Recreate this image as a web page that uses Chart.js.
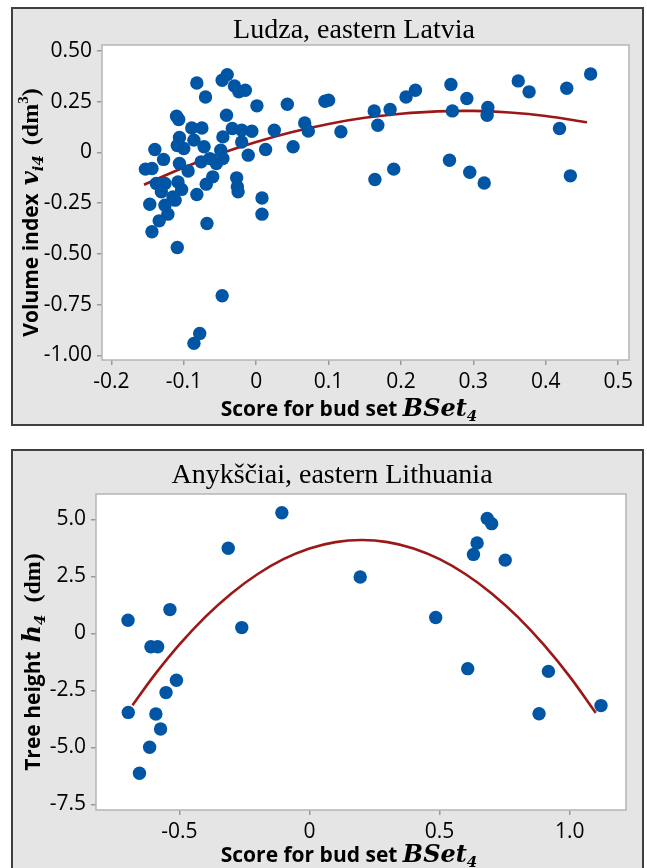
<!DOCTYPE html>
<html>
<head>
<meta charset="utf-8">
<script src="https://cdn.jsdelivr.net/npm/chart.js@4.4.1/dist/chart.umd.min.js"></script>
<style>
  html, body { margin: 0; padding: 0; background: #fff; overflow: hidden; }
  body { width: 647px; height: 868px; position: relative; }
  .panel { position: absolute; left: 11px; width: 633px; background: #e5e5e5; border: 2px solid #3f3f3f; box-sizing: border-box; }
  #p1 { top: 7px; height: 419px; }
  #p2 { top: 449px; height: 425px; }
  .panel canvas { display: block; }
</style>
</head>
<body>
<div class="panel" id="p1"><canvas id="ludza" width="629" height="415"></canvas></div>
<div class="panel" id="p2"><canvas id="anyksciai" width="629" height="421"></canvas></div>
<script>
// Ludza, eastern Latvia
const ludzaScore = [-0.082,-0.040,-0.047,-0.030,-0.024,-0.015,-0.070,0.001,0.043,-0.110,
  -0.107,-0.041,-0.089,-0.075,-0.033,-0.020,-0.006,0.025,-0.106,-0.086,
  -0.046,-0.109,-0.100,-0.072,-0.049,-0.020,-0.011,0.013,0.051,-0.140,
  -0.128,-0.153,-0.144,-0.106,-0.094,-0.076,-0.064,-0.055,-0.046,-0.060,
  -0.069,-0.027,-0.026,-0.025,-0.138,-0.126,-0.108,-0.103,-0.115,-0.131,
  -0.082,0.008,-0.147,-0.126,-0.112,-0.122,-0.134,-0.144,-0.068,-0.109,
  0.008,-0.047,-0.078,-0.086,0.095,0.100,0.067,0.072,0.117,0.163,
  0.168,0.185,0.207,0.220,0.269,0.271,0.291,0.320,0.319,0.164,
  0.190,0.267,0.295,0.315,0.362,0.377,0.429,0.462,0.419,0.434];
const ludzaVolume = [0.343,0.384,0.356,0.328,0.299,0.307,0.274,0.230,0.238,0.179,
  0.163,0.184,0.121,0.121,0.118,0.110,0.105,0.110,0.074,0.061,
  0.077,0.034,0.020,0.028,0.011,0.052,-0.013,0.015,0.028,0.015,
  -0.034,-0.082,-0.079,-0.054,-0.091,-0.046,-0.030,-0.054,-0.030,-0.120,
  -0.156,-0.125,-0.169,-0.194,-0.153,-0.153,-0.145,-0.182,-0.219,-0.194,
  -0.207,-0.224,-0.255,-0.260,-0.235,-0.304,-0.337,-0.391,-0.350,-0.468,
  -0.304,-0.706,-0.892,-0.941,0.253,0.258,0.146,0.106,0.102,0.205,
  0.134,0.212,0.274,0.307,0.335,0.205,0.266,0.222,0.184,-0.133,
  -0.082,-0.038,-0.097,-0.150,0.353,0.299,0.317,0.387,0.118,-0.115];
const ludzaFitScore = [-0.155,-0.1,-0.05,0,0.05,0.1,0.15,0.2,0.25,0.3,0.35,0.4,0.457];
const ludzaFitVolume = [-0.159,-0.074,-0.006,0.052,0.101,0.141,0.171,0.191,0.203,0.205,0.197,0.180,0.149];
const ludzaXTicks = [-0.2,-0.1,0,0.1,0.2,0.3,0.4,0.5];
const ludzaXLabels = ['-0.2','-0.1','0','0.1','0.2','0.3','0.4','0.5'];
const ludzaYTicks = [0.5,0.25,0,-0.25,-0.5,-0.75,-1];
const ludzaYLabels = ['0.50','0.25','0','-0.25','-0.50','-0.75','-1.00'];

// Anykščiai, eastern Lithuania
const anyScore = [-0.697,-0.696,-0.653,-0.614,-0.609,-0.583,-0.590,-0.572,-0.551,-0.536,
  -0.511,-0.312,-0.260,-0.106,0.195,0.485,0.608,0.630,0.644,0.683,
  0.700,0.752,0.882,0.918,1.120];
const anyHeight = [0.57,-3.47,-6.14,-5.00,-0.59,-0.59,-3.54,-4.20,-2.60,1.04,
  -2.06,3.73,0.25,5.29,2.47,0.69,-1.55,3.46,3.96,5.04,
  4.81,3.21,-3.53,-1.67,-3.17];
const anyFitScore = [-0.68,-0.6,-0.5,-0.4,-0.3,-0.2,-0.1,0,0.1,0.2,0.3,0.4,0.5,0.6,0.7,0.8,0.9,1.0,1.1];
const anyFitHeight = [-3.16,-1.90,-0.50,0.72,1.75,2.59,3.25,3.72,4.00,4.09,4.00,3.72,3.25,2.59,1.75,0.72,-0.50,-1.90,-3.49];
const anyXTicks = [-0.5,0,0.5,1.0];
const anyXLabels = ['-0.5','0','0.5','1.0'];
const anyYTicks = [5,2.5,0,-2.5,-5,-7.5];
const anyYLabels = ['5.0','2.5','0','-2.5','-5.0','-7.5'];

const SANS = '"Open Sans"';
const boldSans = 'bold 21px ' + SANS;
const mathIt = 'italic bold 24px "DejaVu Serif"';
const mathSub = 'italic bold 15px "DejaVu Serif"';
const serifB = 'bold 24px "Liberation Serif"';

function pairs(xs, ys) {
  return xs.map((x, i) => ({x: x, y: ys[i]}));
}

function drawRich(ctx, parts, cx, cy, rotate) {
  ctx.save();
  ctx.translate(cx, cy);
  if (rotate) ctx.rotate(-Math.PI / 2);
  ctx.textBaseline = 'alphabetic';
  ctx.textAlign = 'left';
  ctx.fillStyle = '#000';
  let total = 0;
  parts.forEach(p => { ctx.font = p.font; total += ctx.measureText(p.text).width + (p.gap || 0); });
  let x = -total / 2;
  parts.forEach(p => {
    ctx.font = p.font;
    ctx.fillText(p.text, x, p.dy || 0);
    x += ctx.measureText(p.text).width + (p.gap || 0);
  });
  ctx.restore();
}

// white plot area with light grey frame, like the original
const frame = {
  id: 'frame',
  beforeDraw(chart) {
    const a = chart.chartArea, ctx = chart.ctx;
    ctx.save();
    ctx.fillStyle = '#fff';
    ctx.fillRect(a.left, a.top, a.right - a.left, a.bottom - a.top);
    ctx.restore();
  },
  beforeDatasetsDraw(chart) {
    const a = chart.chartArea, ctx = chart.ctx;
    ctx.save();
    ctx.strokeStyle = '#b5b5b5';
    ctx.lineWidth = 1.5;
    ctx.strokeRect(a.left, a.top, a.right - a.left, a.bottom - a.top);
    ctx.restore();
  }
};

const labels = {
  id: 'labels',
  afterDraw(chart, args, opts) {
    const a = chart.chartArea, ctx = chart.ctx;
    drawRich(ctx, opts.title, opts.titleX, opts.titleY, false);
    drawRich(ctx, opts.xTitle, opts.xTitleX, opts.xTitleY, false);
    drawRich(ctx, opts.yTitle, opts.yTitleX, (a.top + a.bottom) / 2 + 10, true);
  }
};

function axis(min, max, ticks, tickLabels, fixedSize, horizontal) {
  return {
    type: 'linear',
    min: min,
    max: max,
    afterBuildTicks: s => { s.ticks = ticks.map(v => ({value: v})); },
    afterFit: s => { if (horizontal) s.height = fixedSize; else s.width = fixedSize; },
    border: {display: false},
    grid: {drawOnChartArea: false, drawTicks: true, tickLength: 5, color: '#9a9a9a', lineWidth: 1.5},
    ticks: {
      color: '#000',
      font: {family: 'Open Sans', size: 21},
      padding: horizontal ? 4 : 5,
      maxRotation: 0,
      autoSkip: false,
      callback: v => tickLabels[ticks.indexOf(v)]
    }
  };
}

function makeChart(id, pts, fit, x, y, pad, text) {
  new Chart(document.getElementById(id), {
    type: 'scatter',
    data: {
      datasets: [{
        data: pts,
        backgroundColor: '#0055a5',
        borderWidth: 0,
        pointRadius: 6.7,
        order: 1
      }, {
        data: fit,
        showLine: true,
        borderColor: '#9c1717',
        borderWidth: 2.6,
        pointRadius: 0,
        tension: 0.3,
        order: 2
      }]
    },
    options: {
      responsive: false,
      animation: false,
      layout: {padding: pad},
      scales: {x: x, y: y},
      plugins: {
        legend: {display: false},
        tooltip: {enabled: false},
        labels: text
      }
    },
    plugins: [frame, labels]
  });
}

makeChart('ludza',
  pairs(ludzaScore, ludzaVolume),
  pairs(ludzaFitScore, ludzaFitVolume),
  axis(-0.213, 0.515, ludzaXTicks, ludzaXLabels, 64, true),
  axis(-1.023, 0.530, ludzaYTicks, ludzaYLabels, 89, false),
  {top: 36, right: 13, left: 0, bottom: 0},
  {
    title: [{text: 'Ludza, eastern Latvia', font: '28px "Liberation Serif"'}],
    titleX: 341, titleY: 29,
    xTitle: [{text: 'Score for bud set ', font: boldSans}, {text: 'BSet', font: mathIt}, {text: '4', font: mathSub, dy: 5}],
    xTitleX: 336, xTitleY: 407,
    yTitle: [{text: 'Volume index', font: boldSans, gap: 8}, {text: 'v', font: mathIt}, {text: 'i4', font: mathSub, dy: 5, gap: 10},
      {text: '(dm', font: serifB}, {text: '3', font: 'bold 15px "Liberation Serif"', dy: -10}, {text: ')', font: serifB}],
    yTitleX: 25
  });

makeChart('anyksciai',
  pairs(anyScore, anyHeight),
  pairs(anyFitScore, anyFitHeight),
  axis(-0.820, 1.216, anyXTicks, anyXLabels, 62, true),
  axis(-7.75, 6.11, anyYTicks, anyYLabels, 83, false),
  {top: 43, right: 16, left: 0, bottom: 0},
  {
    title: [{text: 'Anykščiai, eastern Lithuania', font: '28px "Liberation Serif"'}],
    titleX: 319, titleY: 32,
    xTitle: [{text: 'Score for bud set ', font: boldSans}, {text: 'BSet', font: mathIt}, {text: '4', font: mathSub, dy: 5}],
    xTitleX: 336, xTitleY: 411,
    yTitle: [{text: 'Tree height', font: boldSans, gap: 9}, {text: 'h', font: mathIt}, {text: '4', font: mathSub, dy: 5, gap: 12},
      {text: '(dm)', font: serifB}],
    yTitleX: 27
  });
</script>
</body>
</html>
